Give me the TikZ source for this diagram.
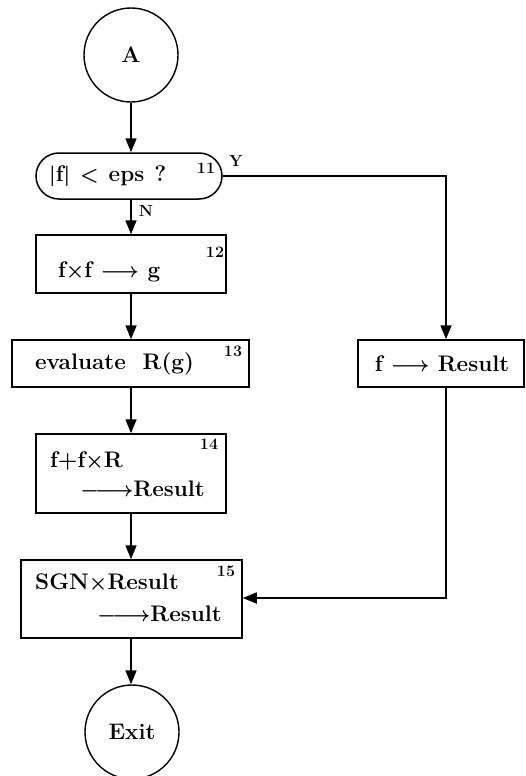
\documentclass[tikz,border=0pt]{standalone}
\usepackage{fontspec}
\usetikzlibrary{arrows.meta}
\newcommand{\tto}{$\longrightarrow$}
\newcommand{\ttolong}{$\relbar\joinrel\longrightarrow$}
\newcommand{\bigf}{\fontsize{22.5}{26}\selectfont\bfseries\boldmath}
\newcommand{\smallf}{\fontsize{16}{18}\selectfont\bfseries}
\begin{document}
\begin{tikzpicture}[x=1pt,y=-1pt,
  box/.style={draw, line width=1.5pt, inner sep=0pt},
  term/.style={draw, circle, line width=1.4pt, minimum size=94pt, inner sep=0pt, font=\bigf},
  arr/.style={line width=1.7pt, -{Triangle[length=14pt,width=11pt]}},
  num/.style={font=\smallf, inner sep=0pt},
  txt/.style={inner sep=0pt, font=\bigf}]
\path[use as bounding box] (0,0) rectangle (525,776);
% terminals
\node[term] (A) at (131,55) {A};
\node[term] (X) at (132,732) {Exit};
% decision
\node[box, rounded corners=23pt, minimum width=186pt, minimum height=46pt] (dec) at (129,176) {};
\node[txt, anchor=west] (dect) at (49,176) {$|$f$|$\hspace{10pt}$<$\hspace{10pt}eps\hspace{10pt}?};
\node[num] (n11) at (206,168) {11};
\node[num] (Y) at (236,161) {Y};
\node[num] (N) at (146,211) {N};
% box 12
\node[box, minimum width=190pt, minimum height=58pt] (b12) at (131,264) {};
\node[txt, anchor=west] (t12) at (58,272) {f$\times$f \tto\ g};
\node[num] (n12) at (215,252) {12};
% box 13
\node[box, minimum width=237pt, minimum height=47pt] (b13) at (130.5,363.5) {};
\node[txt, anchor=west] (t13) at (35,364) {evaluate \ R(g)};
\node[num] (n13) at (233,351) {13};
% box 14
\node[box, minimum width=190pt, minimum height=79pt] (b14) at (131,473.5) {};
\node[txt, anchor=west] (t14a) at (50,461) {f+f$\times$R};
\node[txt, anchor=east] (t14b) at (205,489) {\ttolong Result};
\node[num] (n14) at (209,444) {14};
% box 15
\node[box, minimum width=221pt, minimum height=78pt] (b15) at (131.5,599) {};
\node[txt, anchor=west] (t15a) at (35,583) {SGN$\times$Result};
\node[txt, anchor=east] (t15b) at (222,614) {\ttolong Result};
\node[num] (n15) at (226,571) {15};
% right box
\node[box, minimum width=166pt, minimum height=47pt] (bR) at (441,363.5) {};
\node[txt] (tR) at (442,364) {f \tto\ Result};
% connectors
\draw[arr] (A.south) -- (A.south |- dec.north);
\draw[arr] (dec.south -| A.south) -- (A.south |- b12.north);
\draw[arr] (b12.south -| A.south) -- (A.south |- b13.north);
\draw[arr] (b13.south -| A.south) -- (A.south |- b14.north);
\draw[arr] (b14.south -| A.south) -- (A.south |- b15.north);
\draw[arr] (b15.south -| A.south) -- (A.south |- X.north);
\coordinate (c1) at (446,176);
\draw[arr] (dec.east) -- (c1) -- (c1 |- bR.north);
\coordinate (c2) at (446,598);
\draw[arr] (c1 |- bR.south) -- (c2) -- (b15.east |- c2);
\end{tikzpicture}
\end{document}
